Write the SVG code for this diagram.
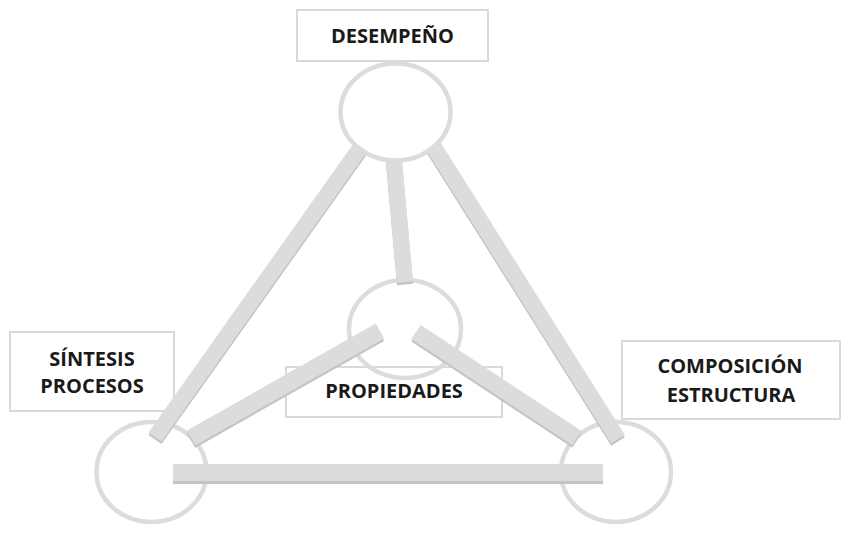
<svg xmlns="http://www.w3.org/2000/svg" xmlns:xlink="http://www.w3.org/1999/xlink" width="850" height="545" viewBox="0 0 850 545">
  <style>
    .box { fill: none; stroke: #d9d9d9; stroke-width: 2; }
    .ring { fill: none; stroke: #dcdcdc; stroke-width: 4.5; }
    .ring-top { fill: #ffffff; stroke: #dcdcdc; stroke-width: 4.5; }
    .bar { fill: #dcdcdc; }
    .bar-edge { fill: #c4c4c4; }
    .lbl { font-family: "Open Sans", "Liberation Sans", sans-serif; font-weight: bold; font-size: 20px; fill: #1a1a1a; text-anchor: middle; }
  </style>
  <defs>
    <polygon id="b1" points="353.5,143.4 366.5,152.6 161.5,441.6 148.5,432.4"/>
    <polygon id="b2" points="438.8,139.7 425.2,148.3 611.2,443.3 624.8,434.7"/>
    <polygon id="b3" points="401.5,154.2 385.5,155.8 397,282.8 413,281.2"/>
    <polygon id="b4" points="375.8,323.6 384.2,338.4 195.2,445.4 186.8,430.6"/>
    <polygon id="b5" points="420.7,324.9 411.3,339.1 572.3,445.1 581.7,430.9"/>
    <rect id="b6" x="173" y="464" width="430" height="17"/>
  </defs>

  <g id="node-propiedades-box">
    <rect class="box" x="286" y="367" width="216" height="50"/>
  </g>
  <g id="node-sintesis-box">
    <rect class="box" x="10" y="332" width="164" height="79"/>
  </g>
  <g id="node-composicion-box">
    <rect class="box" x="622" y="341" width="218" height="78"/>
  </g>
  <g id="node-desempeno-box">
    <rect class="box" x="297" y="10" width="191" height="51"/>
  </g>

  <g id="node-propiedades-circle">
    <ellipse class="ring" cx="405" cy="329" rx="56" ry="49"/>
  </g>
  <g id="node-sintesis-circle">
    <ellipse class="ring" cx="151.5" cy="472" rx="55" ry="50"/>
  </g>
  <g id="node-composicion-circle">
    <ellipse class="ring" cx="616" cy="472" rx="55" ry="50"/>
  </g>

  <g id="connectors">
    <use href="#b1" xlink:href="#b1" class="bar-edge" transform="translate(0,2.5)"/>
    <use href="#b1" xlink:href="#b1" class="bar"/>
    <use href="#b2" xlink:href="#b2" class="bar-edge" transform="translate(0,2.5)"/>
    <use href="#b2" xlink:href="#b2" class="bar"/>
    <use href="#b3" xlink:href="#b3" class="bar-edge" transform="translate(0,2.5)"/>
    <use href="#b3" xlink:href="#b3" class="bar"/>
    <use href="#b4" xlink:href="#b4" class="bar-edge" transform="translate(0,2.5)"/>
    <use href="#b4" xlink:href="#b4" class="bar"/>
    <use href="#b5" xlink:href="#b5" class="bar-edge" transform="translate(0,2.5)"/>
    <use href="#b5" xlink:href="#b5" class="bar"/>
    <use href="#b6" xlink:href="#b6" class="bar-edge" transform="translate(0,3)"/>
    <use href="#b6" xlink:href="#b6" class="bar"/>
  </g>

  <g id="node-desempeno-circle">
    <ellipse class="ring-top" cx="395.5" cy="112" rx="55" ry="48.5"/>
  </g>

  <g id="labels">
    <text class="lbl" x="392.5" y="43">DESEMPEÑO</text>
    <text class="lbl" x="394" y="398">PROPIEDADES</text>
    <text class="lbl" x="92" y="366">SÍNTESIS</text>
    <text class="lbl" x="92" y="393">PROCESOS</text>
    <text class="lbl" x="730" y="373">COMPOSICIÓN</text>
    <text class="lbl" x="731" y="402">ESTRUCTURA</text>
  </g>
</svg>
